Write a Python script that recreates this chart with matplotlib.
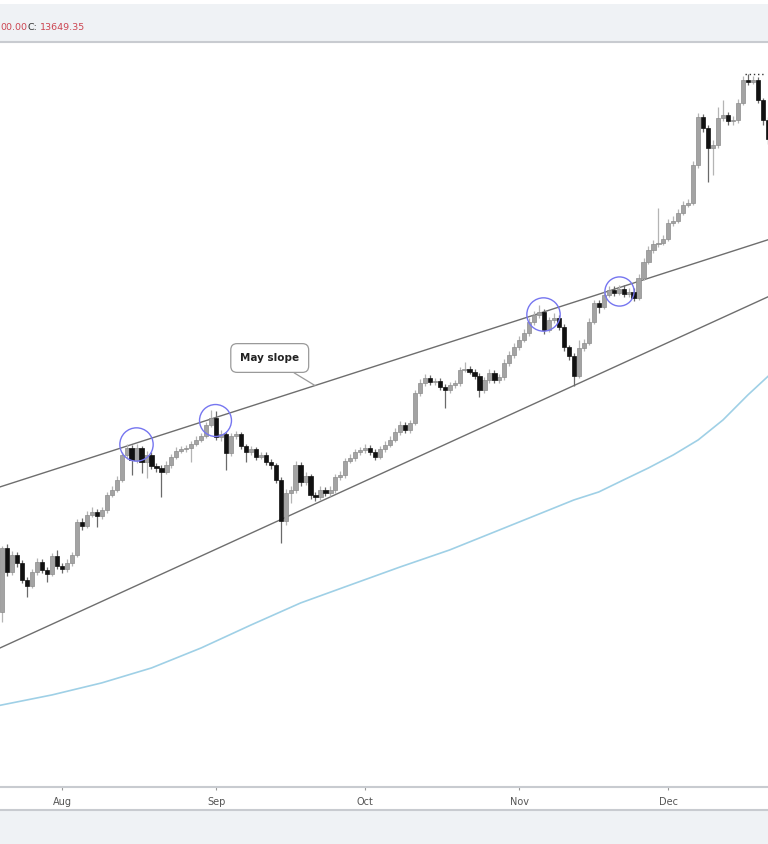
import numpy as np
import pandas as pd
import matplotlib
matplotlib.use("Agg")
import matplotlib.pyplot as plt
import matplotlib.dates as mdates
from matplotlib.patches import Rectangle
from matplotlib.lines import Line2D

# daily candles, 2017-07-20 .. 2017-12-21
start = "2017-07-20"
opens = [
    2306, 2933, 2680, 2855, 2771, 2600, 2543, 2680, 2782, 2700,
    2660, 2845, 2741, 2710, 2771, 2855, 3235, 3186, 3320, 3358,
    3308, 3383, 3580, 3648, 3788, 4161, 4272, 4083, 4272, 4053,
    4161, 3992, 3962, 3903, 4007, 4130, 4224, 4256, 4272, 4336,
    4402, 4468, 4660, 4782, 4452, 4502, 4192, 4468, 4502, 4303,
    4208, 4256, 4130, 4161, 4053, 4007, 3788, 3247, 3608, 3648,
    4007, 3760, 3845, 3580, 3553, 3648, 3608, 3648, 3830, 3860,
    4068, 4114, 4208, 4240, 4272, 4208, 4130, 4256, 4320, 4402,
    4537, 4660, 4571, 4693, 5253, 5454, 5558, 5475, 5496, 5375,
    5313, 5413, 5454, 5728, 5750, 5685, 5600, 5313, 5516, 5664,
    5516, 5579, 5880, 6060, 6245, 6412, 6582, 6860, 7043, 7123,
    6657, 6912, 6964, 6732, 6245, 6037, 5600, 6221, 6340, 6860,
    7368, 7258, 7594, 7738, 7651, 7767, 7622, 7680, 7508, 8095,
    8597, 8994, 9198, 9233, 9373, 9954, 10030, 10335, 10650, 10732,
    12381, 14830, 14230, 13200, 13350, 14775, 14940, 14610, 14664, 15632,
    17045, 16917, 17045, 15810, 14664,
]
highs = [
    2960, 2975, 2895, 2890, 2800, 2630, 2710, 2820, 2810, 2730,
    2880, 2911, 2770, 2810, 2890, 3270, 3280, 3370, 3420, 3400,
    3420, 3620, 3700, 3840, 4200, 4330, 4320, 4330, 4310, 4220,
    4200, 4040, 4000, 4060, 4180, 4280, 4310, 4320, 4380, 4460,
    4520, 4710, 4928, 4900, 4570, 4540, 4520, 4560, 4540, 4340,
    4310, 4290, 4210, 4200, 4100, 4040, 3830, 3660, 3700, 4060,
    4050, 3900, 3880, 3620, 3700, 3690, 3700, 3880, 3910, 4120,
    4170, 4260, 4290, 4330, 4320, 4250, 4310, 4380, 4460, 4600,
    4720, 4710, 4750, 5320, 5530, 5630, 5620, 5560, 5560, 5430,
    5480, 5520, 5800, 5900, 5820, 5750, 5660, 5580, 5740, 5730,
    5650, 5960, 6140, 6330, 6500, 6670, 6950, 7140, 7300, 7200,
    7000, 7100, 7050, 6800, 6300, 6100, 6400, 6430, 6950, 7460,
    7440, 7700, 7840, 7850, 7870, 7880, 7800, 7780, 8200, 8720,
    9120, 9330, 10535, 9500, 10100, 10200, 10480, 10800, 10900, 12550,
    15050, 15000, 14400, 13600, 15400, 15810, 15100, 14900, 15850, 17300,
    17400, 17300, 17200, 15900, 14800,
]
lows = [
    2221, 2640, 2650, 2730, 2570, 2440, 2520, 2650, 2670, 2580,
    2640, 2710, 2670, 2680, 2740, 2830, 3140, 3160, 3290, 3174,
    3270, 3350, 3550, 3620, 3760, 4100, 3860, 4040, 3890, 3817,
    3950, 3900, 3553, 3870, 3960, 4100, 4190, 4210, 4053, 4300,
    4360, 4430, 4620, 4400, 4380, 3933, 4150, 4420, 4250, 4053,
    4160, 4080, 4090, 4000, 3950, 3740, 2988, 3200, 3475, 3610,
    3700, 3720, 3530, 3500, 3510, 3560, 3570, 3610, 3790, 3820,
    4030, 4070, 4160, 4190, 4160, 4080, 4090, 4210, 4280, 4360,
    4490, 4520, 4520, 4650, 5200, 5400, 5420, 5420, 5320, 4965,
    5260, 5360, 5400, 5680, 5630, 5540, 5173, 5260, 5460, 5460,
    5460, 5520, 5820, 6000, 6180, 6350, 6510, 6790, 6970, 6560,
    6600, 6840, 6650, 6160, 5950, 5395, 5550, 6150, 6290, 6800,
    7100, 7200, 7530, 7560, 7580, 7540, 7520, 7420, 7450, 8020,
    8520, 8900, 9100, 9150, 9300, 9850, 9950, 10250, 10560, 10650,
    12250, 14000, 11612, 11934, 13200, 14600, 14400, 14400, 14500, 15500,
    16700, 16750, 15600, 14400, 13400,
]
closes = [
    2933, 2680, 2855, 2771, 2600, 2543, 2680, 2782, 2700, 2660,
    2845, 2741, 2710, 2771, 2855, 3235, 3186, 3320, 3358, 3308,
    3383, 3580, 3648, 3788, 4161, 4272, 4083, 4272, 4053, 4161,
    3992, 3962, 3903, 4007, 4130, 4224, 4256, 4272, 4336, 4402,
    4468, 4660, 4782, 4452, 4502, 4192, 4468, 4502, 4303, 4208,
    4256, 4130, 4161, 4053, 4007, 3788, 3247, 3608, 3648, 4007,
    3760, 3845, 3580, 3553, 3648, 3608, 3648, 3830, 3860, 4068,
    4114, 4208, 4240, 4272, 4208, 4130, 4256, 4320, 4402, 4537,
    4660, 4571, 4693, 5253, 5454, 5558, 5475, 5496, 5375, 5313,
    5413, 5454, 5728, 5750, 5685, 5600, 5313, 5516, 5664, 5516,
    5579, 5880, 6060, 6245, 6412, 6582, 6860, 7043, 7123, 6657,
    6912, 6964, 6732, 6245, 6037, 5600, 6221, 6340, 6860, 7368,
    7258, 7594, 7738, 7651, 7767, 7622, 7680, 7508, 8095, 8597,
    8994, 9198, 9233, 9373, 9954, 10030, 10335, 10650, 10732, 12381,
    14830, 14230, 13200, 13350, 14775, 14940, 14610, 14664, 15632, 17045,
    16917, 17045, 15810, 14664, 13649.35,
]

# light blue moving average
ma_dates = ["2017-07-19", "2017-07-30", "2017-08-09", "2017-08-19", "2017-08-29",
            "2017-09-08", "2017-09-18", "2017-09-28", "2017-10-08", "2017-10-18",
            "2017-10-28", "2017-11-07", "2017-11-12", "2017-11-17", "2017-11-22",
            "2017-11-27", "2017-12-02", "2017-12-07", "2017-12-12", "2017-12-17",
            "2017-12-22"]
ma_values = [1620, 1688, 1766, 1868, 2014, 2195, 2385, 2552, 2730, 2911,
             3138, 3383, 3513, 3620, 3788, 3962, 4161, 4402, 4746, 5213,
             5684]

# trend channel anchors
upper_dates = ["2017-07-20", "2017-12-21"]
upper_prices = [3700, 9340]
lower_dates = ["2017-07-20", "2017-12-21"]
lower_prices = [2022, 7536]

# highlighted touches of the "May slope" line
circle_dates = ["2017-08-15 21:00", "2017-08-31 19:00", "2017-11-05 19:00", "2017-11-21 02:00"]
circle_prices = [4336, 4746, 7070, 7710]
circle_sizes = [24, 23, 24, 21]

peak_dates = ["2017-12-16 12:00", "2017-12-20 12:00"]
peak_prices = [17400, 17400]

dates = mdates.date2num(pd.date_range(start, periods=len(closes), freq="D"))
opens = np.array(opens, float)
closes = np.array(closes, float)
highs = np.array(highs, float)
lows = np.array(lows, float)
up = closes >= opens

W, H = 768, 844
fig = plt.figure(figsize=(W / 100, H / 100), dpi=100)
fig.patch.set_facecolor("#eff2f5")

# white strips: very top, and the date band under the plot (behind the axes)
fig.add_artist(Rectangle((0, 1 - 4 / H), 1, 4 / H, transform=fig.transFigure,
                         facecolor="white", edgecolor="none", zorder=-2))
fig.add_artist(Rectangle((0, 34 / H), 1, 23 / H, transform=fig.transFigure,
                         facecolor="white", edgecolor="none", zorder=-2))
fig.add_artist(Line2D([0, 1], [34 / H, 34 / H], transform=fig.transFigure,
                      color="#c8cbd0", lw=1.5, zorder=-1))

ax = fig.add_axes([0, 57 / H, 1, (787 - 42) / H])
ax.set_facecolor("white")
ax.set_yscale("log")
ax.set_ylim(1194, 19650)
ax.set_xlim(dates[0] - 0.48, dates[0] + 154.05)

# wicks then bodies
ax.vlines(dates[up], lows[up], highs[up], color="#b4b4b4", lw=0.9, zorder=2)
ax.vlines(dates[~up], lows[~up], highs[~up], color="#6a6a6a", lw=0.9, zorder=2)
body_lo = np.minimum(opens, closes)
body_h = np.maximum(np.abs(closes - opens), body_lo * 0.003)
ax.bar(dates[up], body_h[up], bottom=body_lo[up], width=0.85,
       color="#a3a3a3", edgecolor="#8c8c8c", lw=0.5, zorder=3)
ax.bar(dates[~up], body_h[~up], bottom=body_lo[~up], width=0.85,
       color="#111111", edgecolor="#111111", lw=0.5, zorder=3)

# moving average
ax.plot(mdates.date2num(pd.to_datetime(ma_dates)), ma_values,
        color="#9fd0e6", lw=1.2, zorder=1)

# channel lines, extended across the view
x0, x1 = ax.get_xlim()
for d, p in [(upper_dates, upper_prices), (lower_dates, lower_prices)]:
    dx = mdates.date2num(pd.to_datetime(d))
    k = (np.log(p[1]) - np.log(p[0])) / (dx[1] - dx[0])
    xs = np.array([x0, x1])
    ax.plot(xs, np.exp(np.log(p[0]) + k * (xs - dx[0])), color="#6e6e6e", lw=1.0, zorder=1)

# circles
cx = mdates.date2num(pd.to_datetime(circle_dates))
for xx, yy, s in zip(cx, circle_prices, circle_sizes):
    ax.plot(xx, yy, "o", ms=s, mfc="none", mec="#7676f0", mew=1.0, zorder=4)

# dotted level near the top
ax.plot(mdates.date2num(pd.to_datetime(peak_dates)), peak_prices,
        color="#333333", lw=1.0, ls=(0, (1, 2)), zorder=4)

# label
ax.annotate("May slope",
            xy=(mdates.date2num(pd.Timestamp("2017-09-20 22:00")), 5400),
            xytext=(mdates.date2num(pd.Timestamp("2017-09-11 19:00")), 5990),
            ha="center", va="center", fontsize=7.5, fontweight="bold", color="#222222",
            bbox=dict(boxstyle="round,pad=0.9,rounding_size=0.6", fc="white",
                      ec="#9a9a9a", lw=0.9),
            arrowprops=dict(arrowstyle="-", color="#9a9a9a", lw=0.9,
                            shrinkA=0, shrinkB=0), zorder=5)

# axes cosmetics
for side in ["left", "right"]:
    ax.spines[side].set_visible(False)
ax.spines["top"].set_color("#c8cbd0")
ax.spines["top"].set_linewidth(1.5)
ax.spines["bottom"].set_color("#c8cbd0")
ax.spines["bottom"].set_linewidth(1.5)
ax.yaxis.set_visible(False)
ax.xaxis.set_major_locator(mdates.MonthLocator())
ax.xaxis.set_major_formatter(mdates.DateFormatter("%b"))
ax.xaxis.set_minor_locator(plt.NullLocator())
ax.tick_params(axis="x", length=2.5, width=0.8, color="#999999",
               labelsize=7, labelcolor="#555555", pad=5)

# OHLC header text (cut off on the left)
fig.text(0 / W, 1 - 27 / H, "00.00", fontsize=6.8, color="#cc4450", va="center")
fig.text(28 / W, 1 - 27 / H, "C:", fontsize=6.8, color="#333333", va="center")
fig.text(40 / W, 1 - 27 / H, "13649.35", fontsize=6.8, color="#cc4450", va="center")

fig.savefig("out.png", dpi=100, facecolor=fig.get_facecolor())
plt.close(fig)
